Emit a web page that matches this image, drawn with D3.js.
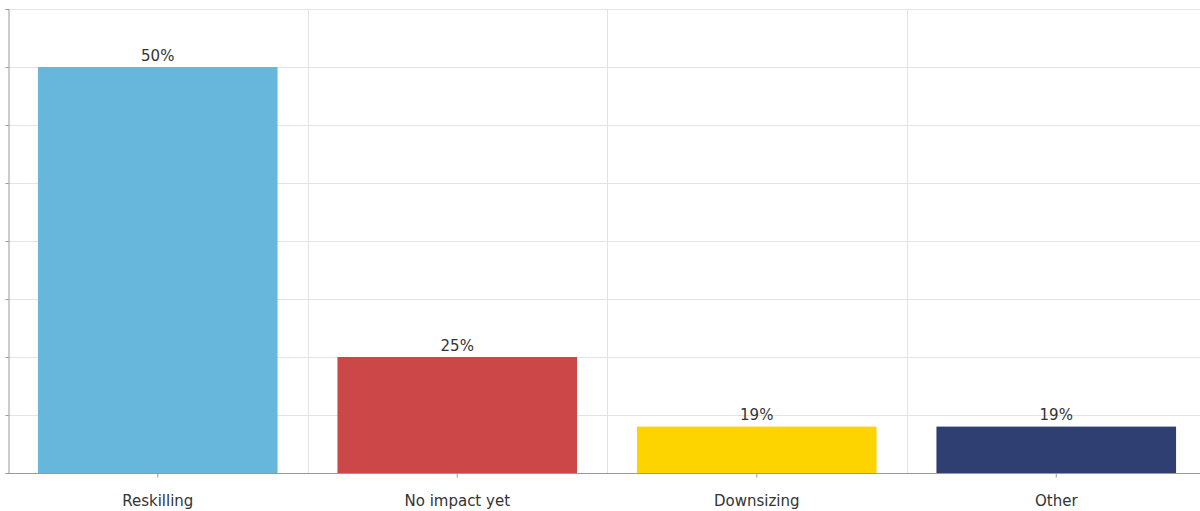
<!DOCTYPE html>
<html><head><meta charset="utf-8">
<script src="https://cdn.jsdelivr.net/npm/d3@7"></script>
<style>body{margin:0;background:#fff}svg{display:block}</style>
</head><body>
<svg id="c" width="1200" height="511"></svg>
<script>
const categories = ["Reskilling", "No impact yet", "Downsizing", "Other"];
const values = [50, 25, 19, 19];
const colors = ["#67b7dc", "#cc4748", "#fdd400", "#2f3f72"];
const yTicks = [15, 20, 25, 30, 35, 40, 45, 50, 55];

(function () {
const svg = d3.select("#c");
const W = 1200;
const pLeft = 8, pRight = 1206, pTop = 9, pBottom = 473;

const x = d3.scaleBand().domain(categories).range([pLeft, pRight]).paddingInner(0).paddingOuter(0);
const y = d3.scaleLinear().domain([15, 55]).range([pBottom, pTop]);
const inner = 0.8;

// horizontal gridlines
svg.append("g").selectAll("line").data(yTicks).join("line")
  .attr("x1", pLeft).attr("x2", W)
  .attr("y1", d => Math.round(y(d)) + 0.5).attr("y2", d => Math.round(y(d)) + 0.5)
  .attr("stroke", "#e3e3e3").attr("stroke-width", 1);

// vertical gridlines at band boundaries
svg.append("g").selectAll("line").data(categories.slice(1)).join("line")
  .attr("x1", d => Math.round(x(d)) + 0.5).attr("x2", d => Math.round(x(d)) + 0.5)
  .attr("y1", pTop).attr("y2", pBottom)
  .attr("stroke", "#e3e3e3").attr("stroke-width", 1);

// bars
const bw = x.bandwidth() * inner;
svg.append("g").selectAll("rect").data(values).join("rect")
  .attr("x", (d, i) => x(categories[i]) + (x.bandwidth() - bw) / 2)
  .attr("width", bw)
  .attr("y", d => y(d))
  .attr("height", d => pBottom - y(d))
  .attr("fill", (d, i) => colors[i]);

// left axis
const ya = d3.axisLeft(y).tickValues(yTicks).tickSize(3).tickFormat("");
svg.append("g").attr("transform", `translate(${pLeft + 0.5},0)`).call(ya)
  .call(g => g.selectAll("line,path").attr("stroke", "#999"));

// bottom axis
const xa = d3.axisBottom(x).tickSize(4).tickFormat("");
svg.append("g").attr("transform", `translate(0,${pBottom + 0.5})`).call(xa)
  .call(g => g.select("path").attr("stroke", "#999").attr("d", `M${pLeft},0H${W}`))
  .call(g => g.selectAll("line").attr("stroke", "#999"));

// category labels
svg.append("g").selectAll("text").data(categories).join("text")
  .attr("x", d => x(d) + x.bandwidth() / 2)
  .attr("y", 506)
  .attr("text-anchor", "middle")
  .attr("font-family", "DejaVu Sans, Verdana, sans-serif")
  .attr("font-size", 15)
  .attr("fill", "#333")
  .text(d => d);

// value labels
svg.append("g").selectAll("text").data(values).join("text")
  .attr("x", (d, i) => x(categories[i]) + x.bandwidth() / 2)
  .attr("y", d => y(d) - 6.5)
  .attr("text-anchor", "middle")
  .attr("font-family", "DejaVu Sans, Verdana, sans-serif")
  .attr("font-size", 15)
  .attr("fill", "#333")
  .text(d => d + "%");
})();
</script>
</body></html>
